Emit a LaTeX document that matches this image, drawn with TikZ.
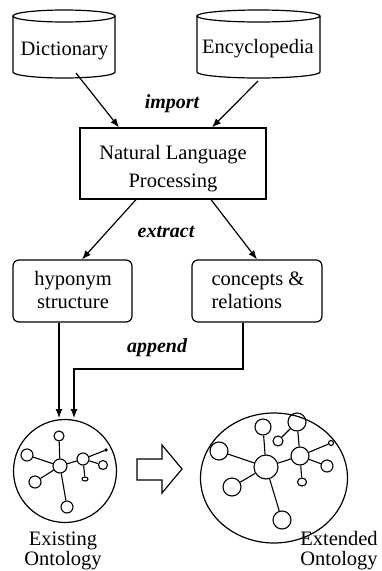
\documentclass[tikz,border=0pt]{standalone}
\usepackage{fontspec}
\setmainfont{Liberation Serif}
\usetikzlibrary{arrows.meta,shapes.geometric}
\begin{document}
\begin{tikzpicture}[x=1pt,y=-1pt,line width=1.2pt,
  txt/.style={font=\fontsize{20.5}{26}\selectfont, inner sep=0pt},
  lbl/.style={font=\fontsize{20}{23}\selectfont\bfseries\itshape, inner sep=0pt, anchor=base},
  arr/.style={-{Latex[length=9pt,width=7pt]}},
  onode/.style={circle, draw, inner sep=0pt, line width=1.1pt},
  oedge/.style={line width=1.1pt},
  rbox/.style={draw, rounded corners=6pt, align=center, inner sep=0pt, font=\fontsize{20.5}{24}\selectfont}]
\useasboundingbox (0,0) rectangle (382,571);
% cylinders
\draw (13,16) -- (13,72) arc[start angle=180,end angle=0,x radius=51,y radius=6] -- (115,16);
\draw (64,16) ellipse[x radius=51,y radius=6];
\node[txt, anchor=base] (dict) at (64.5,55) {Dictionary};
\draw (197,16) -- (197,72) arc[start angle=180,end angle=0,x radius=61.5,y radius=6] -- (320,16);
\draw (258.5,16) ellipse[x radius=61.5,y radius=6];
\node[txt, anchor=base] (ency) at (258,53) {Encyclopedia};
% NLP
\node[draw, minimum width=186pt, minimum height=71pt, inner sep=0pt] (nlp) at (173,163.5) {};
\node[align=center, font=\fontsize{20.5}{28}\selectfont, inner sep=0pt, anchor=base] (nlpt) at (173,187) {Natural Language\\Processing};
\coordinate (d1) at (76,73);
\coordinate (en1) at (258,81);
\draw[arr] (d1) -- (nlp.north west -| 119,0);
\draw[arr] (en1) -- (nlp.north west -| 212,0);
\node[lbl] (imp) at (172,108) {import};
% boxes
\node[rbox, minimum width=119pt, minimum height=62pt] (hyp) at (72.5,291) {};
\node[align=center, font=\fontsize{20.5}{23}\selectfont, inner sep=0pt, anchor=base] (hypt) at (73,308) {hyponym\\structure};
\node[rbox, minimum width=130pt, minimum height=62pt] (con) at (257,291) {};
\node[align=left, font=\fontsize{20.5}{23}\selectfont, inner sep=0pt, anchor=base west] (cont) at (211,308) {concepts \&\\relations};
\draw[arr] (nlp.south -| 136,0) -- (hyp.north -| 82,0);
\draw[arr] (nlp.south -| 211,0) -- (con.north -| 257,0);
\node[lbl] (ext) at (166,237) {extract};
\node[lbl] (app) at (157,352) {append};
% ontologies
\node[circle, draw, minimum size=103pt, inner sep=0pt] (exist) at (65,471) {};
\node[ellipse, draw, minimum width=147pt, minimum height=130pt, inner sep=0pt] (extd) at (274,478) {};
\draw[arr] (hyp.south -| 59,0) -- (59,418);
\draw[arr] (con.south -| 243,0) |- (74,369) -- (74,418);
% existing graph
\node[onode, minimum size=14pt] (e0) at (60,466) {};
\node[onode, minimum size=10pt] (e1) at (59,436) {};
\node[onode, minimum size=12pt] (e2) at (27,455) {};
\node[onode, minimum size=12pt] (e3) at (35,482) {};
\node[onode, minimum size=12pt] (e4) at (67,507) {};
\node[onode, minimum size=12pt] (e5) at (83,459) {};
\node[onode, minimum size=9pt] (e6) at (103,465) {};
\node[ellipse, draw, inner sep=0pt, line width=1.1pt, minimum width=6pt, minimum height=4pt] (e7) at (85,479) {};
\node[onode, minimum size=2pt] (e8) at (106,450) {};
\foreach \n in {e1,e2,e3,e4,e5} \draw[oedge] (e0) -- (\n);
\foreach \n in {e6,e7,e8} \draw[oedge] (e5) -- (\n);
% extended graph
\node[onode, minimum size=24pt] (x0) at (266,467) {};
\node[onode, minimum size=16pt] (x1) at (263,427) {};
\node[onode, minimum size=18pt] (x2) at (219,451) {};
\node[onode, minimum size=18pt] (x3) at (232,487) {};
\node[onode, minimum size=18pt] (x4) at (282,520) {};
\node[onode, minimum size=18pt] (x5) at (300,456) {};
\node[onode, minimum size=18pt] (x6) at (297,422) {};
\node[onode, minimum size=10pt] (x7) at (278,441) {};
\node[onode, minimum size=12pt] (x8) at (327,466) {};
\node[onode, minimum size=5pt] (x9) at (331,443) {};
\node[ellipse, draw, inner sep=0pt, line width=1.1pt, minimum width=9pt, minimum height=8pt] (x10) at (302,482) {};
\foreach \n in {x1,x2,x3,x4,x5} \draw[oedge] (x0) -- (\n);
\foreach \n in {x6,x8,x9,x10} \draw[oedge] (x5) -- (\n);
\draw[oedge] (x6) -- (x7);
% block arrow
\draw (137,459) -- (162,459) -- (162,445) -- (182,469) -- (162,493) -- (162,480) -- (137,480) -- cycle;
% labels
\node[align=center, font=\fontsize{20.5}{20}\selectfont, inner sep=0pt, anchor=base] (lex) at (63,565) {Existing\\Ontology};
\node[align=center, font=\fontsize{20.5}{20}\selectfont, inner sep=0pt, anchor=base] (lext) at (339,565) {Extended\\Ontology};
\end{tikzpicture}
\end{document}
